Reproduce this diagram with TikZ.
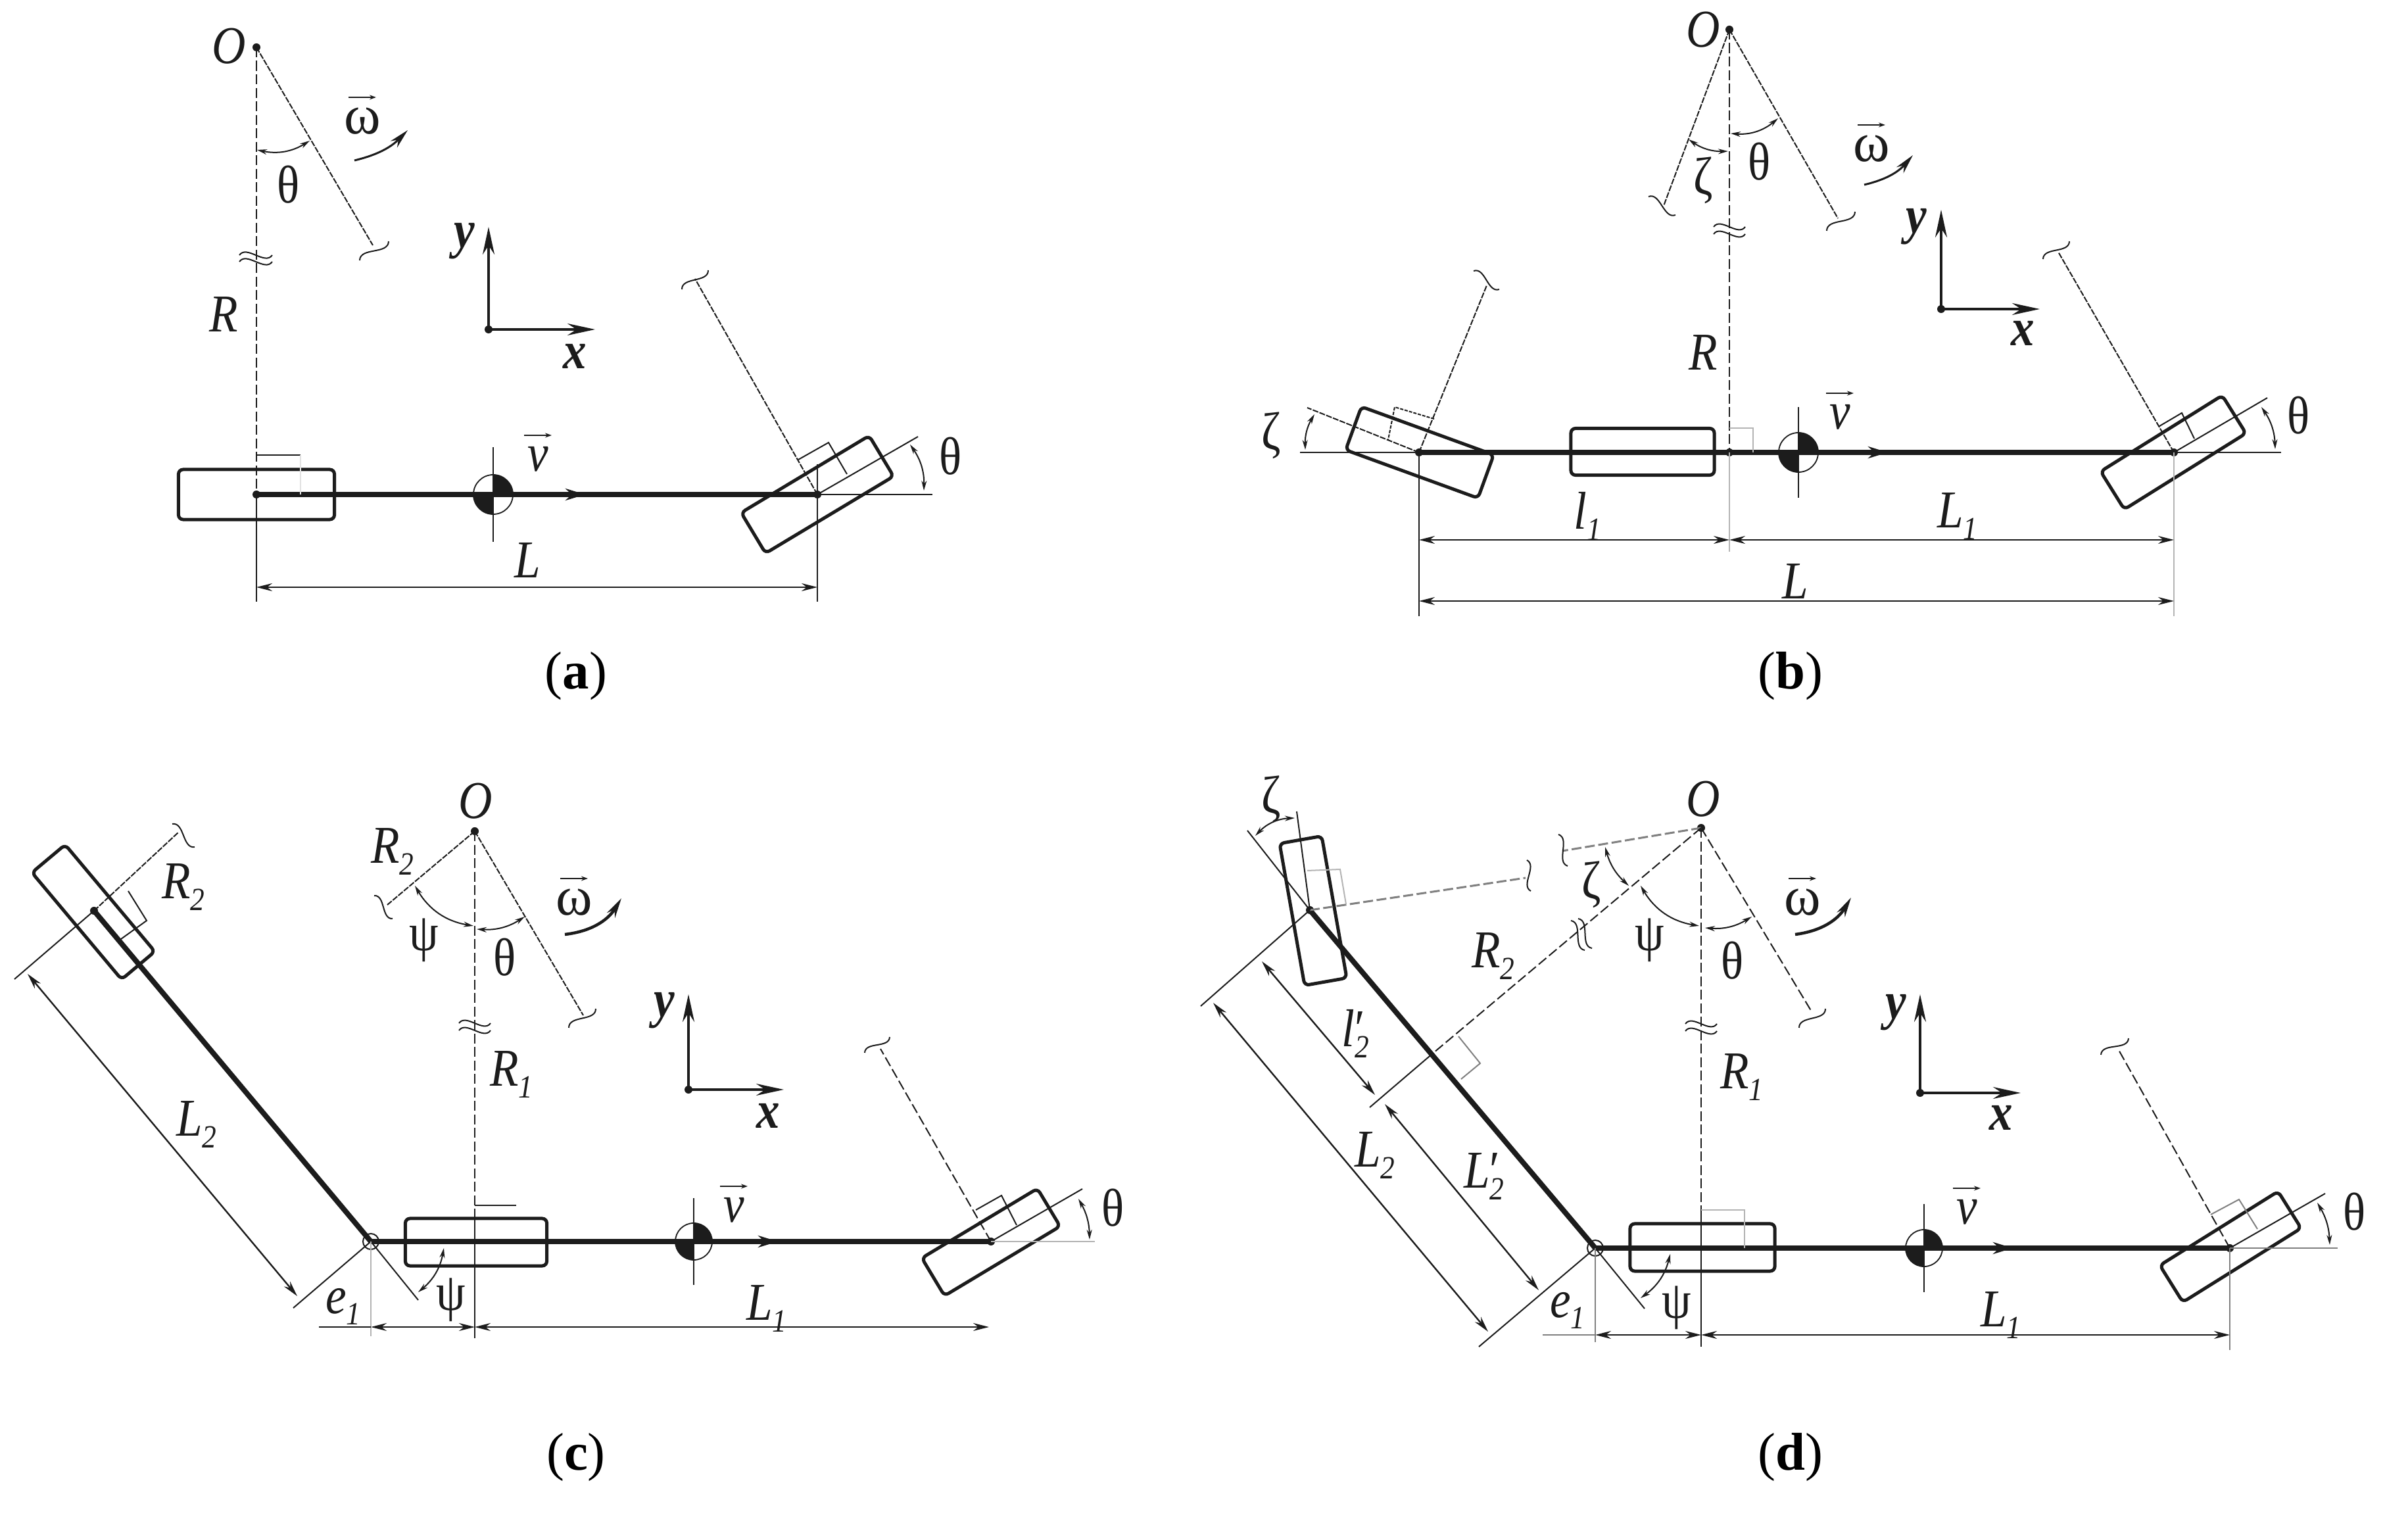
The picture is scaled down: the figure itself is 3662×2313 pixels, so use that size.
\documentclass[tikz,border=0pt]{standalone}
\usepackage{fontspec}
\usepackage{xcolor}
\usetikzlibrary{arrows.meta,calc}
\setmainfont{Liberation Serif}
\newfontfamily\lf[FakeStretch=.88]{Liberation Serif}
\definecolor{ink}{HTML}{1C1C1C}
\definecolor{faint}{HTML}{B4B4B4}
\definecolor{vfaint}{HTML}{E2E2E2}
\newcommand{\lsub}[1]{\raisebox{-.22em}{\fontsize{14}{14}\selectfont\itshape #1}}
\newcommand{\omg}{{\fontsize{24}{24}\selectfont\rmfamily ω}}
\tikzset{
  x=.01cm,y=-.01cm,
  every path/.style={color=ink},
  lbl/.style={inner sep=0pt,text=ink,font=\fontsize{23}{25}\selectfont\lf},
  captxt/.style={inner sep=0pt,text=black,font=\fontsize{23}{25}\selectfont},
  dot/.style={circle,fill=ink,draw=none,inner sep=0pt,minimum size=.12cm},
  wheelbox/.style={draw=ink,line width=.05cm,rounded corners=.07cm,inner sep=0pt,fill=none},
  axle/.style={line width=.08cm},
  thinl/.style={line width=.02cm},
  fnt/.style={line width=.02cm,draw=faint},
  dashl/.style={line width=.02cm,dash pattern=on .15cm off .055cm},
  fdash/.style={line width=.02cm,dash pattern=on .09cm off .02cm},
  dim/.style={line width=.024cm,{Stealth[length=.24cm,width=.12cm]}-{Stealth[length=.24cm,width=.12cm]}},
  arcd/.style={line width=.02cm,{Stealth[length=.15cm,width=.08cm]}-{Stealth[length=.15cm,width=.08cm]}},
  rotarr/.style={line width=.03cm,-{Stealth[length=.3cm,width=.14cm]}},
  axarr/.style={line width=.04cm,-{Stealth[length=.42cm,width=.18cm]}},
  midtip/.style={line width=.07cm,-{Stealth[length=.3cm,width=.18cm]}},
  vecarr/.style={line width=.015cm,-{Stealth[length=.1cm,width=.07cm]}},
  tl/.style={line width=.02cm},
  jnt/.style={circle,draw=ink,line width=.02cm,inner sep=0pt,minimum size=.24cm,fill=white},
}
\newcommand{\tld}[2]{\draw[tl] (#1) to[relative,out=55,in=-125] (#2);}
\newcommand{\lab}[3]{\node[lbl] (#1) at (#2) {#3};}
\newcommand{\vlab}[3]{\node[lbl] (#1) at (#2) {#3};\draw[vecarr] ([shift={(-.21cm,.36cm)}]#1.center) -- ([shift={(.21cm,.36cm)}]#1.center);}
% name, centre, radius (cm), half cross length (cm)
\newcommand{\cgsym}[4]{%
  \node[circle,draw=ink,line width=.018cm,fill=white,inner sep=0pt,minimum size=#3*2cm] (#1) at (#2) {};
  \fill[ink] (#1.center) -- ++(#3cm,0) arc[start angle=0,end angle=90,radius=#3cm] -- cycle;
  \fill[ink] (#1.center) -- ++(-#3cm,0) arc[start angle=180,end angle=270,radius=#3cm] -- cycle;
  \draw[thinl] ([yshift=#4cm]#1.center) -- ([yshift=-#4cm]#1.center);}
\newcommand{\midt}[2]{\coordinate (#1) at (#2);\draw[midtip] ([xshift=-.3cm]#1) -- (#1);}
% axes: prefix, origin, ytip, xtip
\newcommand{\axes}[4]{\node[dot] (#1o) at (#2) {};\coordinate (#1ty) at (#3);\coordinate (#1tx) at (#4);
  \draw[axarr] (#1o.center) -- (#1ty);\draw[axarr] (#1o.center) -- (#1tx);}
\begin{document}
\begin{tikzpicture}
\useasboundingbox (0,0) rectangle (3662,2313);
\fill[white] (0,0) rectangle (3662,2313);
%%%%%%%%%%%%%%%%%%%%%%% (a)
\node[dot] (aO) at (390,72) {};
\node[dot] (aR) at (390,752) {};
\node[dot] (aF) at (1243,752) {};
\node[wheelbox,minimum width=2.37cm,minimum height=.76cm] (aW1) at (390,752) {};
\node[wheelbox,minimum width=2.27cm,minimum height=.72cm,rotate=31] (aW2) at (1243,752) {};
\cgsym{aG}{750,752}{.3}{.72}
\draw[axle] (aR.center) -- (aF.center);
\midt{aM}{890,752}
\coordinate (aTh) at (567,373);
\coordinate (aFt) at (1057,424);
\coordinate (aFs) at (1396,664);
\coordinate (aFh) at (1418,752);
\coordinate (aD1) at (390,893);
\coordinate (aD2) at (1243,893);
\coordinate (aE1) at (390,915);
\coordinate (aE2) at (1243,915);
\coordinate (aE3) at (1243,706);
\draw[dashl] (aO.center) -- (aR.center);
\draw[fdash] (aO.center) -- (aTh);
\draw[fdash] (aF.center) -- (aFt);
\draw[thinl] (aF.center) -- (aFs);
\draw[thinl] (aF.center) -- (aFh);
\draw[thinl] (aR.center) -- (aE1);
\draw[thinl] (aE3) -- (aE2);
\draw[dim] (aD1) -- (aD2);
\draw[thinl] (389,692) -- (457,692);
\draw[line width=.02cm,draw=vfaint] (457,692) -- (457,752);
\draw[thinl] (1214,699) -- (1260,673) -- (1288,721);
\tld{547,396}{591,367}
\tld{1037,440}{1077,411}
\tld{364,388}{414,388}
\tld{364,398}{414,398}
\draw[arcd] (391,228) to[bend right=22] (471,214);
\draw[arcd] (1384,676) to[bend left=18] (1405,746);
\draw[rotarr] (539,244) to[bend right=16] (620,198);
\axes{a}{743,501}{743,345}{905,501}
\lab{aLO}{348,70}{\textit{O}}
\vlab{aLw}{551,184}{\omg}
\lab{aLt}{439,281}{θ}
\lab{aLy}{706,367}{\textit{\textbf{y}}}
\lab{aLx}{874,542}{\textit{\textbf{x}}}
\lab{aLR}{340,478}{\textit{R}}
\vlab{aLv}{818,698}{\textit{v}}
\lab{aLL}{802,852}{\textit{L}}
\lab{aLt2}{1446,694}{θ}
\node[captxt] (aCap) at (876,1028) {(\textbf{a})};
%%%%%%%%%%%%%%%%%%%%%%% (b)
\node[dot] (bO) at (2630,45) {};
\node[dot] (bC) at (2630,688) {};
\node[dot] (bL) at (2158,688) {};
\node[dot] (bF) at (3306,688) {};
\node[wheelbox,minimum width=2.14cm,minimum height=.70cm,rotate=-20] (bW1) at (2159,688) {};
\node[wheelbox,minimum width=2.18cm,minimum height=.71cm] (bW2) at (2498,687) {};
\node[wheelbox,minimum width=2.18cm,minimum height=.68cm,rotate=32] (bW3) at (3305,688) {};
\cgsym{bG}{2735,688}{.3}{.69}
\coordinate (bH1) at (1977,688);
\coordinate (bH2) at (3469,688);
\draw[thinl] (bH1) -- (bH2);
\draw[axle] (bL.center) -- (bF.center);
\midt{bM}{2871,688}
\coordinate (bTl) at (2530,313);
\coordinate (bTr) at (2795,332);
\coordinate (bLt) at (2261,434);
\coordinate (bLs) at (1988,620);
\coordinate (bFt) at (3130,383);
\coordinate (bFs) at (3448,605);
\coordinate (bD1) at (2158,821);
\coordinate (bD2) at (2630,821);
\coordinate (bD3) at (3306,821);
\coordinate (bD4) at (2158,914);
\coordinate (bD5) at (3306,914);
\coordinate (bE1) at (2158,937);
\coordinate (bE2) at (2630,839);
\coordinate (bE3) at (3306,937);
\draw[dashl] (bO.center) -- (bC.center);
\draw[fdash] (bO.center) -- (bTl);
\draw[fdash] (bO.center) -- (bTr);
\draw[fdash] (bL.center) -- (bLt);
\draw[fdash] (bL.center) -- (bLs);
\draw[fdash] (bF.center) -- (bFt);
\draw[thinl] (bF.center) -- (bFs);
\draw[thinl] (bL.center) -- (bE1);
\draw[fnt] (bC.center) -- (bE2);
\draw[fnt] (bF.center) -- (bE3);
\draw[dim] (bD1) -- (bD2);
\draw[dim] (bD2) -- (bD3);
\draw[dim] (bD4) -- (bD5);
\draw[fnt] (2630,651) -- (2666,651) -- (2666,688);
\draw[thinl,dash pattern=on .05cm off .02cm] (2181,637) -- (2121,619) -- (2111,669);
\draw[thinl] (3284,648) -- (3318,628) -- (3337,667);
\tld{2507,299}{2548,327}
\tld{2778,351}{2821,322}
\tld{2241,412}{2280,440}
\tld{3107,394}{3147,367}
\tld{2606,345}{2654,345}
\tld{2606,356}{2654,356}
\draw[arcd] (2632,203) to[bend right=22] (2704,180);
\draw[arcd] (2568,212) to[bend right=18] (2628,230);
\draw[arcd] (1999,630) to[bend right=16] (1985,684);
\draw[arcd] (3439,619) to[bend left=16] (3460,683);
\draw[rotarr] (2835,281) to[bend right=18] (2909,236);
\axes{b}{2952,470}{2952,319}{3102,470}
\lab{bLO}{2590,45}{\textit{O}}
\vlab{bLw}{2846,226}{\omg}
\lab{bLt}{2676,246}{θ}
\lab{bLz}{2590,274}{ζ}
\lab{bLy}{2914,345}{\textit{\textbf{y}}}
\lab{bLx}{3076,507}{\textit{\textbf{x}}}
\lab{bLR}{2590,536}{\textit{R}}
\vlab{bLv}{2798,634}{\textit{v}}
\lab{bLz2}{1933,662}{ζ}
\lab{bLt2}{3496,632}{θ}
\lab{bLl}{2414,785}{\textit{l}\lsub{1}}
\lab{bLL1}{2977,785}{\textit{L}\lsub{1}}
\lab{bLL}{2730,884}{\textit{L}}
\node[captxt] (bCap) at (2723,1028) {(\textbf{b})};
%%%%%%%%%%%%%%%%%%%%%%% (c)
\node[dot] (cO) at (722,1264) {};
\coordinate (cC) at (722,1888);
\node[jnt] (cJ) at (564,1888) {};
\node[dot] (cF) at (1507,1888) {};
\node[dot] (cB) at (143,1385) {};
\node[wheelbox,minimum width=2.15cm,minimum height=.72cm] (cW1) at (724,1889) {};
\node[wheelbox,minimum width=2.12cm,minimum height=.66cm,rotate=-50] (cW2) at (142,1387) {};
\node[wheelbox,minimum width=2.05cm,minimum height=.67cm,rotate=31] (cW3) at (1507,1889) {};
\cgsym{cG}{1055,1888}{.28}{.66}
\draw[axle] (cJ.center) -- (cF.center);
\draw[axle] (cJ.center) -- (cB.center);
\midt{cM}{1183,1888}
\coordinate (cV1) at (722,1850);
\coordinate (cV2) at (722,2035);
\coordinate (cTr) at (887,1544);
\coordinate (cTl) at (589,1376);
\coordinate (cBd) at (271,1266);
\coordinate (cBp) at (22,1489);
\coordinate (cJp) at (446,1989);
\coordinate (cJr) at (636,1977);
\coordinate (cFt) at (1339,1595);
\coordinate (cFs) at (1646,1808);
\coordinate (cFh) at (1665,1888);
\coordinate (cD1) at (42,1481);
\coordinate (cD2) at (452,1971);
\coordinate (cE0) at (485,2018);
\coordinate (cE1) at (564,2018);
\coordinate (cE2) at (722,2018);
\coordinate (cE3) at (1504,2018);
\coordinate (cE4) at (564,2032);
\draw[dashl] (cO.center) -- (cV1);
\draw[thinl] (cV1) -- (cV2);
\draw[fdash] (cO.center) -- (cTr);
\draw[fdash] (cO.center) -- (cTl);
\draw[fdash] (cB.center) -- (cBd);
\draw[thinl] (cB.center) -- (cBp);
\draw[thinl] (cJ.center) -- (cJp);
\draw[thinl] (cJ.center) -- (cJr);
\draw[dashl] (cF.center) -- (cFt);
\draw[thinl] (cF.center) -- (cFs);
\draw[fnt] (cF.center) -- (cFh);
\draw[fnt] (cJ.center) -- (cE4);
\draw[line width=.024cm] (cE0) -- (cE1);
\draw[dim] (cE1) -- (cE2);
\draw[dim] (cE2) -- (cE3);
\draw[dim] (cD1) -- (cD2);
\draw[thinl] (722,1833) -- (785,1833);
\draw[thinl] (195,1355) -- (223,1400) -- (184,1428);
\draw[thinl] (1484,1840) -- (1523,1818) -- (1546,1863);
\tld{262,1253}{296,1288}
\tld{569,1362}{597,1397}
\tld{865,1563}{906,1534}
\tld{1315,1601}{1353,1577}
\tld{698,1556}{746,1556}
\tld{698,1567}{746,1567}
\draw[arcd] (631,1347) to[bend right=25] (720,1408);
\draw[arcd] (725,1413) to[bend right=18] (798,1394);
\draw[arcd] (675,1898) to[bend left=20] (636,1965);
\draw[arcd] (1640,1823) to[bend left=14] (1657,1885);
\draw[rotarr,line width=.045cm] (859,1421) to[bend right=26] (945,1366);
\axes{c}{1047,1657}{1047,1512}{1192,1657}
\lab{cLO}{723,1218}{\textit{O}}
\vlab{cLw}{873,1372}{\omg}
\lab{cLR2}{597,1295}{\textit{R}\lsub{2}}
\lab{cLR2b}{279,1349}{\textit{R}\lsub{2}}
\lab{cLp}{645,1430}{ψ}
\lab{cLt}{768,1456}{θ}
\lab{cLy}{1010,1537}{\textit{\textbf{y}}}
\lab{cLx}{1168,1697}{\textit{\textbf{x}}}
\lab{cLR1}{778,1634}{\textit{R}\lsub{1}}
\lab{cLL2}{299,1710}{\textit{L}\lsub{2}}
\vlab{cLv}{1116,1840}{\textit{v}}
\lab{cLt2}{1693,1837}{θ}
\lab{cLe}{522,1987}{\textit{e}\lsub{1}}
\lab{cLp2}{686,1977}{ψ}
\lab{cLL1}{1166,1990}{\textit{L}\lsub{1}}
\node[captxt] (cCap) at (876,2216) {(\textbf{c})};
%%%%%%%%%%%%%%%%%%%%%%% (d)
\node[dot] (dO) at (2587,1259) {};
\coordinate (dC) at (2587,1898);
\node[jnt] (dJ) at (2426,1898) {};
\node[dot] (dF) at (3391,1898) {};
\node[dot] (dB) at (1992,1384) {};
\node[wheelbox,minimum width=2.20cm,minimum height=.72cm] (dW1) at (2589,1897) {};
\node[wheelbox,minimum width=2.19cm,minimum height=.65cm,rotate=-80] (dW2) at (1997,1385) {};
\node[wheelbox,minimum width=2.12cm,minimum height=.66cm,rotate=32] (dW3) at (3392,1896) {};
\cgsym{dG}{2926,1898}{.28}{.67}
\draw[axle] (dJ.center) -- (dF.center);
\draw[axle] (dJ.center) -- (dB.center);
\midt{dM}{3061,1898}
\coordinate (dV1) at (2587,1840);
\coordinate (dV2) at (2587,2048);
\coordinate (dTr) at (2756,1540);
\coordinate (dT2) at (2376,1294);
\coordinate (dBd) at (2320,1335);
\coordinate (dR2) at (2180,1601);
\coordinate (dR3) at (2083,1684);
\coordinate (dBv) at (1972,1234);
\coordinate (dBe) at (1897,1263);
\coordinate (dBp) at (1826,1530);
\coordinate (dJp) at (2249,2048);
\coordinate (dJr) at (2501,1990);
\coordinate (dFt) at (3221,1595);
\coordinate (dFs) at (3536,1815);
\coordinate (dFh) at (3555,1898);
\coordinate (dFv) at (3391,2053);
\coordinate (dL1) at (1919,1462);
\coordinate (dL2) at (2091,1665);
\coordinate (dL3) at (2106,1679);
\coordinate (dL4) at (2340,1962);
\coordinate (dL5) at (1845,1525);
\coordinate (dL6) at (2263,2025);
\coordinate (dE0) at (2346,2030);
\coordinate (dE1) at (2426,2030);
\coordinate (dE2) at (2587,2030);
\coordinate (dE3) at (3391,2030);
\coordinate (dE4) at (2426,2041);
\draw[dashl] (dO.center) -- (dV1);
\draw[thinl] (dV1) -- (dV2);
\draw[dashl] (dO.center) -- (dTr);
\draw[dashl,line width=.03cm,draw=gray] (dO.center) -- (dT2);
\draw[dashl,line width=.03cm,draw=gray] (dB.center) -- (dBd);
\draw[dashl] (dO.center) -- (dR2);
\draw[thinl] (dR2) -- (dR3);
\draw[thinl] (dB.center) -- (dBv);
\draw[thinl] (dB.center) -- (dBe);
\draw[thinl] (dB.center) -- (dBp);
\draw[thinl] (dJ.center) -- (dJp);
\draw[thinl] (dJ.center) -- (dJr);
\draw[dashl] (dF.center) -- (dFt);
\draw[thinl] (dF.center) -- (dFs);
\draw[thinl,draw=gray] (dF.center) -- (dFh);
\draw[thinl,draw=gray] (dF.center) -- (dFv);
\draw[thinl,draw=gray] (dJ.center) -- (dE4);
\draw[line width=.024cm,draw=gray] (dE0) -- (dE1);
\draw[dim] (dE1) -- (dE2);
\draw[dim] (dE2) -- (dE3);
\draw[dim] (dL1) -- (dL2);
\draw[dim] (dL3) -- (dL4);
\draw[dim] (dL5) -- (dL6);
\draw[fnt] (2587,1840) -- (2653,1840) -- (2653,1898);
\draw[fnt] (1988,1324) -- (2038,1322) -- (2047,1375);
\draw[thinl,draw=gray] (2218,1576) -- (2251,1617) -- (2222,1641);
\draw[thinl,draw=gray] (3362,1847) -- (3405,1824) -- (3433,1869);
\tld{2322,1308}{2328,1355}
\tld{2370,1269}{2384,1317}
\tld{2736,1563}{2776,1534}
\tld{3195,1604}{3237,1579}
\tld{2563,1557}{2611,1557}
\tld{2563,1568}{2611,1568}
\tld{2389,1400}{2410,1445}
\tld{2400,1397}{2421,1442}
\draw[arcd] (1909,1271) to[bend left=22] (1969,1244);
\draw[arcd] (2441,1288) to[bend right=16] (2477,1347);
\draw[arcd] (2495,1347) to[bend right=25] (2584,1408);
\draw[arcd] (2593,1411) to[bend right=18] (2664,1394);
\draw[arcd] (2540,1907) to[bend left=20] (2495,1974);
\draw[arcd] (3524,1829) to[bend left=14] (3543,1893);
\draw[rotarr,line width=.045cm] (2730,1421) to[bend right=26] (2815,1365);
\axes{d}{2920,1662}{2920,1512}{3073,1662}
\lab{dLO}{2590,1215}{\textit{O}}
\lab{dLz}{1933,1215}{ζ}
\lab{dLz2}{2420,1345}{ζ}
\vlab{dLw}{2741,1372}{\omg}
\lab{dLR2}{2271,1454}{\textit{R}\lsub{2}}
\lab{dLp}{2509,1430}{ψ}
\lab{dLt}{2635,1461}{θ}
\lab{dLy}{2883,1540}{\textit{\textbf{y}}}
\lab{dLx}{3043,1700}{\textit{\textbf{x}}}
\lab{dLR1}{2649,1638}{\textit{R}\lsub{1}}
\lab{dLl2}{2061,1572}{\textit{l}\rlap{′}\lsub{2}}
\lab{dLL2p}{2257,1789}{\textit{L}\rlap{′}\lsub{2}}
\lab{dLL2}{2091,1757}{\textit{L}\lsub{2}}
\vlab{dLv}{2991,1843}{\textit{v}}
\lab{dLt2}{3581,1843}{θ}
\lab{dLe}{2384,1993}{\textit{e}\lsub{1}}
\lab{dLp2}{2550,1989}{ψ}
\lab{dLL1}{3043,2000}{\textit{L}\lsub{1}}
\node[captxt] (dCap) at (2723,2216) {(\textbf{d})};
\end{tikzpicture}
\end{document}
